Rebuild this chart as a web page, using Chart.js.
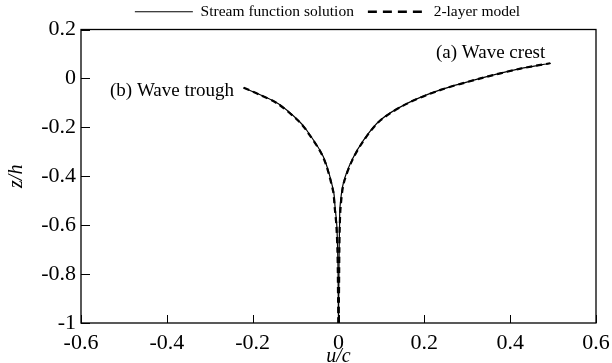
<!DOCTYPE html>
<html>
<head>
<meta charset="utf-8">
<script src="https://cdn.jsdelivr.net/npm/chart.js@4"></script>
<style>
  html, body { margin: 0; padding: 0; background: #fff; }
  #wrap { width: 612px; height: 363px; }
</style>
</head>
<body>
<div id="wrap"><canvas id="chart"></canvas></div>
<script>
// axis ticks
const xTicks = [-0.6, -0.4, -0.2, 0, 0.2, 0.4, 0.6];
const xTickLabels = ['-0.6', '-0.4', '-0.2', '0', '0.2', '0.4', '0.6'];
const yTicks = [-1, -0.8, -0.6, -0.4, -0.2, 0, 0.2];
const yTickLabels = ['-1', '-0.8', '-0.6', '-0.4', '-0.2', '0', '0.2'];

// (a) wave crest profile, z/h and u/c
const crestZ = [-1, -0.9, -0.8, -0.7, -0.6, -0.525, -0.43, -0.335, -0.253, -0.171, -0.103, -0.047, 0.0, 0.04, 0.062];
const crestStream = [0, 0.0005, 0.001, 0.0015, 0.0025, 0.0035, 0.011, 0.031, 0.058, 0.097, 0.159, 0.237, 0.330, 0.423, 0.495];
const crestModel = [0, 0.001, 0.0015, 0.002, 0.003, 0.005, 0.012, 0.032, 0.059, 0.098, 0.160, 0.238, 0.331, 0.424, 0.493];

// (b) wave trough profile
const troughZ = [-1, -0.9, -0.8, -0.7, -0.6, -0.525, -0.457, -0.321, -0.212, -0.171, -0.104, -0.065, -0.038];
const troughStream = [0, -0.0005, -0.001, -0.002, -0.004, -0.008, -0.012, -0.035, -0.074, -0.094, -0.140, -0.185, -0.222];
const troughModel = [0, -0.001, -0.0015, -0.0025, -0.005, -0.009, -0.013, -0.036, -0.075, -0.095, -0.141, -0.186, -0.221];

const pts = (u, z) => u.map((v, i) => ({ x: v, y: z[i] }));

const solid = { borderColor: '#000', borderWidth: 1.2, pointRadius: 0, showLine: true, tension: 0.3, fill: false };
const dashed = { borderColor: '#000', borderWidth: 2.2, borderDash: [6, 4], pointRadius: 0, showLine: true, tension: 0.3, fill: false };

// box, inward ticks and curve labels
const framePlugin = {
  id: 'frame',
  afterLayout(chart) {
    // legend sits a little left of the plot centre
    chart.legend.left -= 11;
    chart.legend.right -= 11;
  },
  afterDraw(chart) {
    const { ctx, chartArea: a, scales } = chart;
    ctx.save();
    ctx.strokeStyle = '#000';
    ctx.lineWidth = 1.3;
    ctx.setLineDash([]);
    ctx.strokeRect(a.left, a.top, a.right - a.left, a.bottom - a.top);
    ctx.lineWidth = 1;
    ctx.beginPath();
    xTicks.forEach(v => {
      const px = Math.round(scales.x.getPixelForValue(v)) + 0.5;
      ctx.moveTo(px, a.bottom);
      ctx.lineTo(px, a.bottom - 8);
    });
    yTicks.forEach(v => {
      const py = Math.round(scales.y.getPixelForValue(v)) + 0.5;
      ctx.moveTo(a.left, py);
      ctx.lineTo(a.left + 9, py);
    });
    ctx.stroke();

    ctx.fillStyle = '#000';
    ctx.font = '19px "Liberation Serif"';
    ctx.textBaseline = 'middle';
    ctx.textAlign = 'left';
    ctx.fillText('(a) Wave crest', 436, 53);
    ctx.fillText('(b) Wave trough', 110, 91);
    ctx.restore();
  }
};

new Chart(document.getElementById('chart'), {
  type: 'scatter',
  data: {
    datasets: [
      { label: 'Stream function solution', data: pts(crestStream, crestZ), ...solid },
      { label: '2-layer model', data: pts(crestModel, crestZ), ...dashed },
      { label: 'trough-stream', data: pts(troughStream, troughZ), ...solid },
      { label: 'trough-model', data: pts(troughModel, troughZ), ...dashed }
    ]
  },
  options: {
    responsive: true,
    maintainAspectRatio: false,
    animation: false,
    layout: { padding: { top: -10, right: 16, left: 0, bottom: 0 } },
    plugins: {
      tooltip: { enabled: false },
      legend: {
        position: 'top',
        fullSize: false,
        labels: {
          filter: item => item.datasetIndex < 2,
          generateLabels: chart => {
            const items = Chart.defaults.plugins.legend.labels.generateLabels(chart);
            return items.map(it => {
              it.lineDash = it.datasetIndex === 1 ? [9, 6] : [];
              it.lineWidth = it.datasetIndex === 1 ? 2.4 : 1;
              it.strokeStyle = '#000';
              return it;
            });
          },
          usePointStyle: true,
          pointStyle: 'line',
          pointStyleWidth: 58,
          boxHeight: 14,
          color: '#000',
          padding: 14,
          font: { family: 'Liberation Serif', size: 15.5 }
        }
      }
    },
    scales: {
      x: {
        type: 'linear',
        min: -0.6, max: 0.6,
        afterBuildTicks: s => { s.ticks = xTicks.map(v => ({ value: v })); },
        afterFit: s => { s.height = 40; },
        grid: { display: false },
        border: { display: false },
        ticks: {
          color: '#000', padding: -1, maxRotation: 0, autoSkip: false,
          font: { family: 'Liberation Serif', size: 22 },
          callback: (v, i) => xTickLabels[i]
        },
        title: {
          display: true, text: 'u/c', color: '#000', padding: { top: 0, bottom: -6 },
          font: { family: 'Liberation Serif', size: 20, style: 'italic' }
        }
      },
      y: {
        type: 'linear',
        min: -1, max: 0.2,
        afterBuildTicks: s => { s.ticks = yTicks.map(v => ({ value: v })); },
        afterFit: s => { s.width = 81; },
        grid: { display: false },
        border: { display: false },
        ticks: {
          color: '#000', padding: -3, autoSkip: false,
          font: { family: 'Liberation Serif', size: 22 },
          callback: (v, i) => yTickLabels[i]
        },
        title: {
          display: true, text: 'z/h', color: '#000', padding: { top: 5, bottom: 0 },
          font: { family: 'Liberation Serif', size: 20, style: 'italic' }
        }
      }
    }
  },
  plugins: [framePlugin]
});
</script>
</body>
</html>
